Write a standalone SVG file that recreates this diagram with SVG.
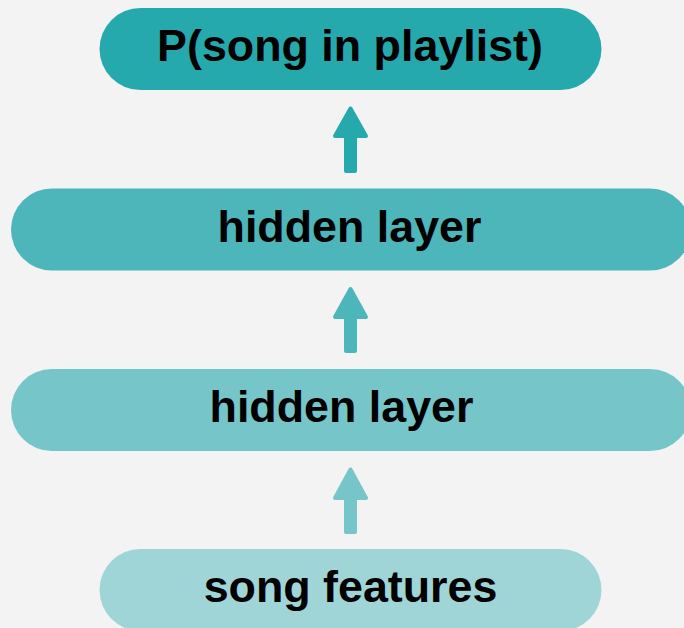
<svg xmlns="http://www.w3.org/2000/svg" width="684" height="628" viewBox="0 0 684 628">
<style>
.lbl{font-family:"Liberation Sans",Arial,sans-serif;font-weight:bold;font-size:44.8px;fill:#000;text-anchor:middle}
.arr{stroke-width:4;stroke-linejoin:round}
</style>
<rect width="684" height="628" fill="#F3F3F3"/>
<g id="connectors">
<path class="arr" fill="#26A9AD" stroke="#26A9AD" d="M350.5,108.5 L366,136 L355,136 L355,171 L346,171 L346,136 L335,136 Z"/>
<path class="arr" fill="#4DB6BA" stroke="#4DB6BA" d="M350.5,289 L366,317 L355,317 L355,351 L346,351 L346,317 L335,317 Z"/>
<path class="arr" fill="#76C6C9" stroke="#76C6C9" d="M350.5,469.5 L366,498 L355,498 L355,532 L346,532 L346,498 L335,498 Z"/>
</g>
<g id="output">
<rect x="99.5" y="8" width="502" height="82" rx="41" fill="#26A9AD"/>
<text class="lbl" x="350" y="61">P(song in playlist)</text>
</g>
<g id="hidden2">
<rect x="11" y="188.5" width="680" height="82" rx="41" fill="#4DB6BA"/>
<text class="lbl" x="349.5" y="242">hidden layer</text>
</g>
<g id="hidden1">
<rect x="11" y="369" width="680" height="82" rx="41" fill="#76C6C9"/>
<text class="lbl" x="341.5" y="422">hidden layer</text>
</g>
<g id="input">
<rect x="99.5" y="549" width="502" height="82" rx="41" fill="#A0D5D8"/>
<text class="lbl" x="350.5" y="602">song features</text>
</g>
</svg>
